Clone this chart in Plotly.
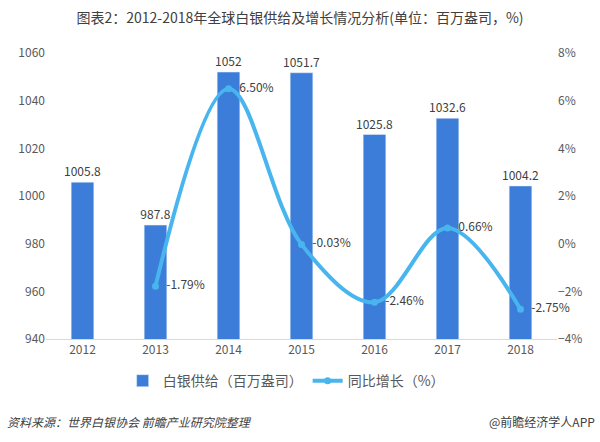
import plotly.graph_objects as go

years = ["2012", "2013", "2014", "2015", "2016", "2017", "2018"]
supply = [1005.8, 987.8, 1052, 1051.7, 1025.8, 1032.6, 1004.2]
growth_years = ["2013", "2014", "2015", "2016", "2017", "2018"]
growth = [-1.79, 6.50, -0.03, -2.46, 0.66, -2.75]
supply_labels = ["1005.8", "987.8", "1052", "1051.7", "1025.8", "1032.6", "1004.2"]
growth_labels = ["-1.79%", "6.50%", "-0.03%", "-2.46%", "0.66%", "-2.75%"]

FONT = "Noto Sans CJK SC"
BAR_C = "#3B7DD8"
LINE_C = "#48B5EE"
TXT = "#404040"

fig = go.Figure()
fig.add_trace(go.Bar(
    x=years, y=supply, name="白银供给（百万盎司）",
    marker_color=BAR_C, width=0.31,
    text=supply_labels, textposition="outside", constraintext="none",
    textfont=dict(size=12, color=TXT, family=FONT),
    cliponaxis=False,
))
fig.add_trace(go.Scatter(
    x=growth_years, y=[g / 100 for g in growth], name="同比增长（%）",
    yaxis="y2", mode="lines+markers+text",
    line=dict(color=LINE_C, width=4, shape="spline", smoothing=1.0),
    marker=dict(color=LINE_C, size=7),
    text=["  " + t for t in growth_labels], textposition="middle right",
    textfont=dict(size=12, color=TXT, family=FONT),
    cliponaxis=False,
))

fig.update_layout(
    width=600, height=442,
    margin=dict(l=46, r=43, t=53, b=103, autoexpand=False),
    paper_bgcolor="white", plot_bgcolor="white",
    font=dict(family=FONT, size=12, color="#595959"),
    title=dict(text="图表2：2012-2018年全球白银供给及增长情况分析(单位：百万盎司，%)",
               x=0.5, xanchor="center", y=0.96, yanchor="middle",
               font=dict(size=14, color=TXT, family=FONT)),
    xaxis=dict(type="category", showgrid=False, showline=True,
               linecolor="#D9D9D9", linewidth=1, ticks="",
               tickfont=dict(size=12, color="#595959")),
    yaxis=dict(range=[940, 1060], dtick=20, showgrid=False, zeroline=False,
               showline=False, ticks="", tickfont=dict(size=12, color="#595959")),
    yaxis2=dict(range=[-0.04, 0.08], dtick=0.02, tickformat=".0%",
                overlaying="y", side="right", showgrid=False, zeroline=False,
                showline=False, ticks="", tickfont=dict(size=12, color="#595959")),
    legend=dict(orientation="h", x=0.15, xanchor="left", y=-0.147,
                yanchor="middle", font=dict(size=14, color="#595959", family=FONT)),
    showlegend=True,
)

fig.add_annotation(text="<i>资料来源：世界白银协会 前瞻产业研究院整理</i>",
                   xref="paper", yref="paper", x=-0.08, y=-0.29,
                   xanchor="left", yanchor="middle", showarrow=False,
                   font=dict(size=12, color=TXT, family=FONT))
fig.add_annotation(text="@前瞻经济学人APP",
                   xref="paper", yref="paper", x=1.078, y=-0.29,
                   xanchor="right", yanchor="middle", showarrow=False,
                   font=dict(size=12, color=TXT, family=FONT))

fig.write_html("out.html", config={"displayModeBar": False},
               post_script="document.body.style.margin='0';")
